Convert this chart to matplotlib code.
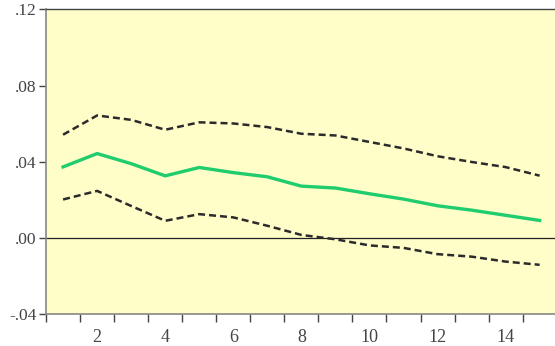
import matplotlib
matplotlib.use("Agg")
import matplotlib.pyplot as plt
from matplotlib.ticker import FuncFormatter

# Impulse response over 15 periods with +/- 2 S.E. bands
periods = list(range(1, 16))
response = [0.0373, 0.0443, 0.0390, 0.0326, 0.0370, 0.0343, 0.0321, 0.0272, 0.0262,
            0.0232, 0.0204, 0.0169, 0.0146, 0.0119, 0.0092]
upper_band = [0.0542, 0.0643, 0.0620, 0.0568, 0.0607, 0.0601, 0.0582, 0.0547, 0.0538,
              0.0504, 0.0470, 0.0429, 0.0399, 0.0372, 0.0327]
lower_band = [0.0202, 0.0247, 0.0168, 0.0090, 0.0125, 0.0108, 0.0064, 0.0016, -0.0007,
              -0.0039, -0.0052, -0.0085, -0.0098, -0.0124, -0.0141]
y_ticks = [-0.04, 0.00, 0.04, 0.08, 0.12]
x_labels = [2, 4, 6, 8, 10, 12, 14]

fig = plt.figure(figsize=(5.55, 3.46), dpi=100)
ax = fig.add_axes([0.083, 0.092, 0.92, 0.881])
ax.set_facecolor("#fffdc8")

ax.axhline(0, color="#222222", lw=0.9, zorder=1)
dash = (0, (2.8, 1.6))
ax.plot(periods, upper_band, color="#2b2b2b", lw=1.8, ls=dash, zorder=2)
ax.plot(periods, lower_band, color="#2b2b2b", lw=1.8, ls=dash, zorder=2)
ax.plot(periods, response, color="#1fcc6e", lw=2.4, zorder=3)

ax.set_xlim(0.5, 15.5)
ax.set_ylim(-0.04, 0.12)

# category boundaries carry the tick marks, labels sit at the period centers
ax.set_xticks([p + 0.5 for p in [0] + periods])
ax.set_xticklabels([])
ax.set_xticks(x_labels, minor=True)
ax.set_xticklabels([str(v) for v in x_labels], minor=True)
ax.tick_params(axis="x", which="major", direction="out", length=6, width=1, color="#444444")
ax.tick_params(axis="x", which="minor", length=0, pad=11, labelsize=13, labelcolor="#444444")

ax.set_yticks(y_ticks)
ax.yaxis.set_major_formatter(FuncFormatter(lambda v, _: ("%.2f" % v).replace("0.", ".")))
ax.tick_params(axis="y", direction="out", length=5, width=1, color="#444444",
               labelsize=12.5, labelcolor="#444444", pad=2)

for lab in ax.get_xticklabels(minor=True) + ax.get_yticklabels():
    lab.set_family("Liberation Serif")

for side in ["left", "bottom"]:
    ax.spines[side].set_color("#888888")
    ax.spines[side].set_linewidth(1.2)
ax.spines["top"].set_color("#444444")
ax.spines["top"].set_linewidth(1.0)
ax.spines["right"].set_visible(False)

fig.savefig("out.png", dpi=100)
